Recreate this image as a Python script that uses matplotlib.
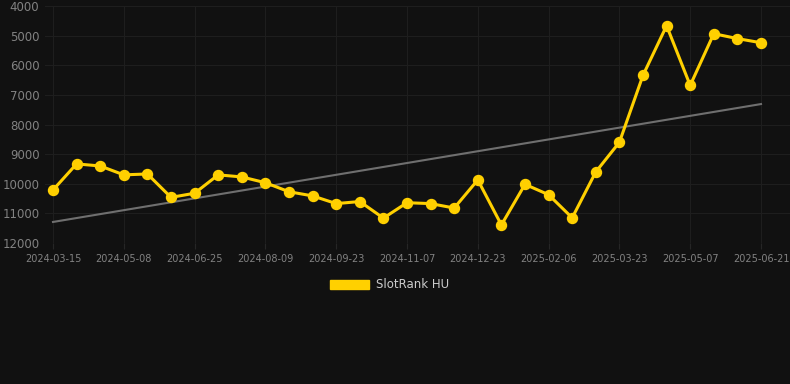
import matplotlib
matplotlib.use("Agg")
import matplotlib.pyplot as plt
from matplotlib.patches import Patch

dates = ["2024-03-15", "2024-04-01", "2024-04-20", "2024-05-08", "2024-05-24", "2024-06-09",
         "2024-06-25", "2024-07-10", "2024-07-25", "2024-08-09", "2024-08-24", "2024-09-08",
         "2024-09-23", "2024-10-08", "2024-10-23", "2024-11-07", "2024-11-22", "2024-12-07",
         "2024-12-23", "2025-01-07", "2025-01-22", "2025-02-06", "2025-02-21", "2025-03-08",
         "2025-03-23", "2025-04-07", "2025-04-22", "2025-05-07", "2025-05-22", "2025-06-06",
         "2025-06-21"]
rank = [10210, 9330, 9400, 9700, 9670, 10460, 10320, 9700, 9770, 9965,
        10270, 10410, 10670, 10600, 11160, 10640, 10670, 10820, 9870, 11390,
        10020, 10370, 11150, 9600, 8600, 6340, 4665, 6680, 4935, 5100, 5240]
trend_ends = [11290, 7310]
tick_labels = ["2024-03-15", "2024-05-08", "2024-06-25", "2024-08-09", "2024-09-23",
               "2024-11-07", "2024-12-23", "2025-02-06", "2025-03-23", "2025-05-07",
               "2025-06-21"]
y_ticks = [4000, 5000, 6000, 7000, 8000, 9000, 10000, 11000, 12000]
series_name = "SlotRank HU"

bg = "#111111"
fig = plt.figure(figsize=(7.9, 3.84), dpi=100, facecolor=bg)
ax = fig.add_axes([45/790, 1-243/384, 1-45/790, (243-6)/384], facecolor=bg)

x = list(range(len(dates)))
ax.plot([x[0], x[-1]], trend_ends, color="#6f6f6f", lw=1.5, zorder=2)
ax.plot(x, rank, color="#FFD000", lw=2.2, marker="o", ms=7.2, zorder=3)

ax.set_ylim(12000, 4000)
ax.set_yticks(y_ticks)
ax.set_yticklabels([str(v) for v in y_ticks])
px_per = (761-53)/30
ax.set_xlim(-(53-45)/px_per, 30 + (790-761)/px_per)
tick_pos = [dates.index(t) for t in tick_labels]
ax.set_xticks(tick_pos)
ax.set_xticklabels(tick_labels)

ax.grid(True, color="#1e1e1e", lw=0.8)
ax.set_axisbelow(True)
for s in ax.spines.values():
    s.set_visible(False)
ax.tick_params(axis="y", length=0, pad=4, labelsize=8.5, labelcolor="#828282")
ax.tick_params(axis="x", length=4, color="#262626", pad=4, labelsize=7, labelcolor="#828282")

handle = Patch(facecolor="#FFD000", edgecolor="#FFD000")
fig.legend([handle], [series_name], loc="center", bbox_to_anchor=(390/790, 1-285/384),
           frameon=False, fontsize=8.5, labelcolor="#cccccc", handlelength=3.3,
           handleheight=0.9, handletextpad=0.6)

fig.savefig("out.png", dpi=100, facecolor=bg)
